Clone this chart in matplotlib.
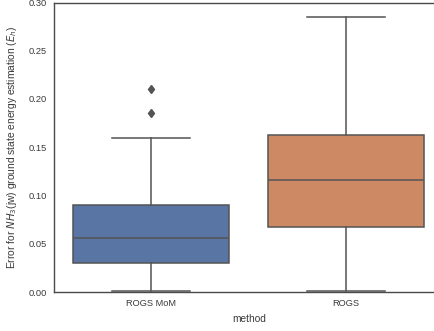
import matplotlib
matplotlib.use("Agg")
import matplotlib.pyplot as plt

# Data (box statistics)
methods = ["ROGS MoM", "ROGS"]
whislo = [0.0013, 0.0010]
q1 = [0.0304, 0.0674]
med = [0.0555, 0.1157]
q3 = [0.0905, 0.1627]
whishi = [0.1600, 0.2853]
fliers = [[0.185, 0.210], []]
yticks = [0.00, 0.05, 0.10, 0.15, 0.20, 0.25, 0.30]

fill_colors = ["#5975a4", "#cc8963"]
line_gray = "#545454"
text_color = "#3a3a3a"

plt.rcParams["font.family"] = ["Liberation Sans", "DejaVu Sans"]
plt.rcParams["mathtext.fontset"] = "dejavusans"

W, H = 435, 331
fig = plt.figure(figsize=(W / 100, H / 100), dpi=100)
left, right, bottom, top = 54, 443.5, 292, 2.5
ax = fig.add_axes([left / W, (H - bottom) / H, (right - left) / W, (bottom - top) / H])

stats = []
for i, m in enumerate(methods):
    stats.append(dict(label=m, whislo=whislo[i], q1=q1[i], med=med[i],
                      q3=q3[i], whishi=whishi[i], fliers=fliers[i]))

bp = ax.bxp(stats, positions=range(len(methods)), widths=0.8, patch_artist=True,
            showfliers=True,
            boxprops=dict(edgecolor=line_gray, linewidth=1.1),
            medianprops=dict(color=line_gray, linewidth=1.1),
            whiskerprops=dict(color=line_gray, linewidth=1.1),
            capprops=dict(color=line_gray, linewidth=1.1),
            flierprops=dict(marker="d", markerfacecolor=line_gray,
                            markeredgecolor=line_gray, markersize=4.5, linestyle="none"))
for patch, c in zip(bp["boxes"], fill_colors):
    patch.set_facecolor(c)

ax.set_xlim(-0.5, len(methods) - 0.5)
ax.set_ylim(0, 0.30)
ax.set_yticks(yticks)
ax.set_yticklabels([f"{t:.2f}" for t in yticks])
ax.set_xticks(range(len(methods)))
ax.set_xticklabels(methods)
ax.tick_params(axis="both", length=0, labelsize=6.7, colors=text_color, pad=5)
for s in ax.spines.values():
    s.set_color("#4a4a4a")
    s.set_linewidth(1.0)
ax.set_xlabel("method", fontsize=7.3, color=text_color, labelpad=4)
ax.set_ylabel(r"Error for $NH_3$(jw) ground state energy estimation ($E_h$)",
              fontsize=7.4, color=text_color, labelpad=7)

fig.savefig("out.png", dpi=100)
